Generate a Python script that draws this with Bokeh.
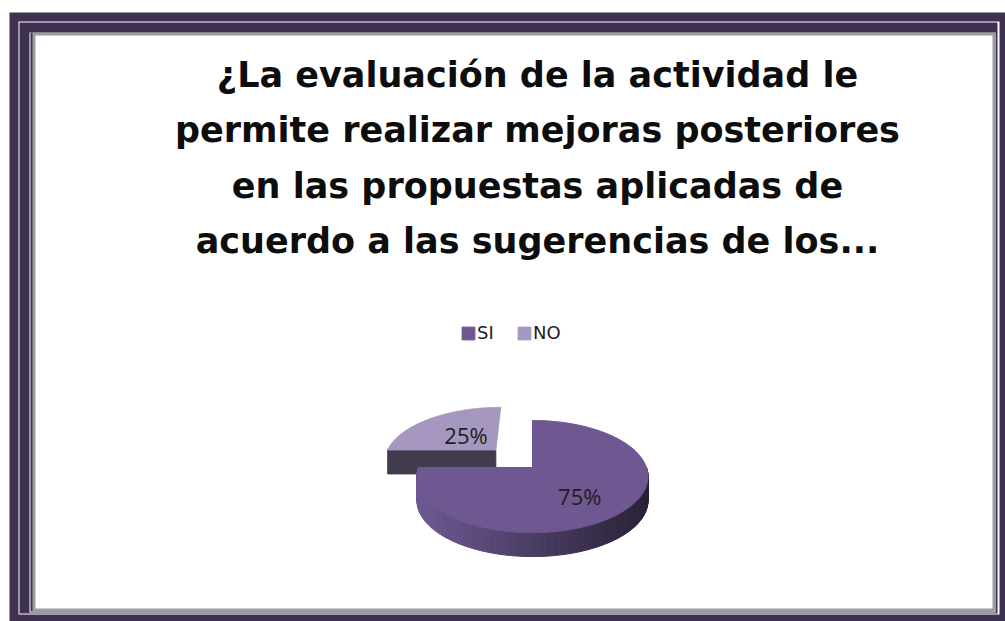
import numpy as np
from bokeh.plotting import figure
from bokeh.models import ColumnDataSource, Range1d, Legend, LegendItem
from bokeh.core.properties import value
from bokeh.embed import file_html
from bokeh.resources import INLINE

# ---------------- data ----------------
categories = ["SI", "NO"]
values = [75, 25]
pct_labels = ["75%", "25%"]
title_lines = [
    "¿La evaluación de la actividad le",
    "permite realizar mejoras posteriores",
    "en las propuestas aplicadas de",
    "acuerdo a las sugerencias de los...",
]

# ---------------- styles / layout ----------------
top_colors = ["#6f5791", "#a597bf"]
side_left = ["#6c5a91", "#6c6478"]
side_right = ["#2a2237", "#2a2533"]
radial_side = ["#3d3350", "#413b4d"]
explode = [0.0, 0.48]
label_r = [0.55, 0.43]
label_dy = [6.0, -1.0]

W, H = 1005, 621
OX, OY = 0, 0


def px(X):
    return np.asarray(X, dtype=float) - OX


def py(Y):
    return (OY + H) - np.asarray(Y, dtype=float)


CX, CY = 532.0, 467.0       # pie centre on the page
RX, RY = 114.0, 54.6        # pie radii
K = 0.161                   # perspective factor
DEPTH = 24.0                # thickness of the pie


def proj(u, v):
    u = np.asarray(u, dtype=float)
    v = np.asarray(v, dtype=float)
    d = 1.0 + K * v
    return CX + RX * u / d, CY - RY * v / d


p = figure(width=W, height=H, x_range=Range1d(0, W), y_range=Range1d(0, H),
           output_backend="svg", toolbar_location=None, min_border=0,
           x_axis_location=None, y_axis_location=None,
           background_fill_color="white", border_fill_color="white",
           outline_line_color=None)
p.grid.visible = False

# ---------------- frame ----------------
frame_boxes = [
    (9, 12, 1005, 621, "#3f3152"),
    (18, 21, 999, 614, "#ffffff"),
    (19, 22, 997, 613, "#3f3152"),
    (29, 32, 995, 612, "#ffffff"),
    (30, 32, 994, 611, "#3f3152"),
    (32, 32, 994, 611, "#9d9d9d"),
    (35, 35, 992, 608, "#ffffff"),
]
for l, t, r, b, c in frame_boxes:
    p.quad(left=px(l), right=px(r), top=py(t), bottom=py(b),
           fill_color=c, line_color=None)

# ---------------- pie ----------------
total = float(sum(values))
fracs = [v / total for v in values]
cum = np.concatenate([[0.0], np.cumsum(fracs)])
starts = np.deg2rad(90.0 - 360.0 * cum[:-1])   # clockwise from 12 o'clock
ends = np.deg2rad(90.0 - 360.0 * cum[1:])

# back slices first
order = sorted(range(len(values)),
               key=lambda i: -np.sin((starts[i] + ends[i]) / 2.0))

pie_left = CX - RX
pie_right = CX + RX


def mix(c1, c2, t):
    a = np.array([int(c1[i:i + 2], 16) for i in (1, 3, 5)], dtype=float)
    b = np.array([int(c2[i:i + 2], 16) for i in (1, 3, 5)], dtype=float)
    m = a + (b - a) * min(max(t, 0.0), 1.0)
    return "#%02x%02x%02x" % tuple(int(round(x)) for x in m)


top_renderers = {}
label_pos = []
for i in order:
    a0, a1 = starts[i], ends[i]
    mid = (a0 + a1) / 2.0
    ou, ov = explode[i] * np.cos(mid), explode[i] * np.sin(mid)

    # radial faces facing the viewer
    side_xs, side_ys, side_cols = [], [], []
    for ang, visible in ((a0, np.cos(a0) < -1e-6), (a1, np.cos(a1) > 1e-6)):
        if visible:
            X0, Y0 = proj(ou, ov)
            X1, Y1 = proj(ou + np.cos(ang), ov + np.sin(ang))
            xs_ = [X0, X1, X1, X0]
            ys_ = [Y0, Y1, Y1 + DEPTH, Y0 + DEPTH]
            side_xs.append(list(px(xs_)))
            side_ys.append(list(py(ys_)))
            side_cols.append(radial_side[i])

    # outer rim (front half)
    th = np.linspace(a0, a1, 240)
    front = np.sin(th) < 0
    idx = np.where(front)[0]
    if len(idx) > 1:
        for j0, j1 in zip(idx[:-1], idx[1:]):
            if j1 != j0 + 1:
                continue
            Xa, Ya = proj(ou + np.cos(th[j0]), ov + np.sin(th[j0]))
            Xb, Yb = proj(ou + np.cos(th[j1]), ov + np.sin(th[j1]))
            t = ((Xa + Xb) / 2.0 - pie_left) / (pie_right - pie_left)
            col = mix(side_left[i], side_right[i], t)
            side_xs.append(list(px([Xa, Xb, Xb, Xa])))
            side_ys.append(list(py([Ya, Yb, Yb + DEPTH, Ya + DEPTH])))
            side_cols.append(col)
    if side_xs:
        p.patches(xs=side_xs, ys=side_ys, fill_color=side_cols,
                  line_color=side_cols, line_width=1)

    # top face
    Xs, Ys = proj(np.concatenate([[ou], ou + np.cos(th)]),
                  np.concatenate([[ov], ov + np.sin(th)]))
    r = p.patch(x=px(Xs), y=py(Ys), fill_color=top_colors[i],
                line_color=top_colors[i], line_width=1)
    top_renderers[i] = r

    LX, LY = proj(ou + label_r[i] * np.cos(mid), ov + label_r[i] * np.sin(mid))
    label_pos.append((i, float(px(LX)), float(py(LY + label_dy[i]))))

label_pos.sort()
lab_src = ColumnDataSource(dict(x=[t[1] for t in label_pos],
                                y=[t[2] for t in label_pos],
                                text=pct_labels))
p.text(x="x", y="y", text="text", source=lab_src,
       text_font=value("Open Sans"), text_font_size="22px",
       text_color="#1e1e1e", text_align="center", text_baseline="middle")

# ---------------- title ----------------
TITLE_PX = 35
base0, step = 87.0, 55.5
mid_off = 0.36 * TITLE_PX
title_src = ColumnDataSource(dict(
    x=[float(px(537))] * len(title_lines),
    y=[float(py(base0 + k * step - mid_off)) for k in range(len(title_lines))],
    text=title_lines))
p.text(x="x", y="y", text="text", source=title_src,
       text_font=value("DejaVu Sans"), text_font_style="bold",
       text_font_size=f"{TITLE_PX}px", text_color="#0d0d0d",
       text_align="center", text_baseline="middle")

# ---------------- legend ----------------
legend = Legend(
    items=[LegendItem(label=categories[i], renderers=[top_renderers[i]])
           for i in range(len(categories))],
    orientation="horizontal", location=(460, 278),
    padding=0, margin=0, spacing=19, glyph_width=16, glyph_height=16,
    label_standoff=1, label_height=16,
    label_text_font="DejaVu Sans", label_text_font_size="18px",
    label_text_color="#1e1e1e",
    background_fill_alpha=0, border_line_alpha=0)
p.add_layout(legend)

open("out.html", "w").write(file_html(p, INLINE))
